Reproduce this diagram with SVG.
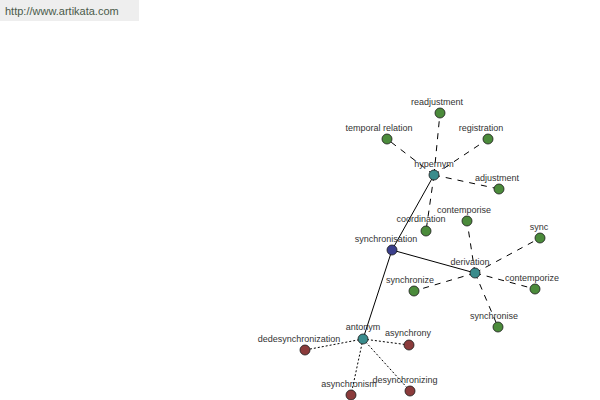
<svg xmlns="http://www.w3.org/2000/svg" width="600" height="400" viewBox="0 0 600 400">
<style>
.n{stroke:#1a1a1a;stroke-width:0.8}
.g{fill:#4b8b3b}
.t{fill:#3a8c8c}
.b{fill:#3b3f8c}
.r{fill:#8b3b3b}
text{font-family:"Liberation Sans",Arial,sans-serif;font-size:9px;fill:#333;text-anchor:middle}
.s{stroke:#000;stroke-width:1;fill:none}
.d{stroke:#000;stroke-width:1;stroke-dasharray:6,6;fill:none}
.o{stroke:#000;stroke-width:1;stroke-dasharray:2,2;fill:none}
</style>
<rect x="0" y="0" width="139" height="21" fill="#eeeeee"/>
<text x="5" y="15" style="text-anchor:start;font-size:11px;fill:#4a5a4a">http://www.artikata.com</text>
<g id="connectors">
<line class="s" x1="434" y1="175" x2="392" y2="250"/>
<line class="s" x1="392" y1="250" x2="475" y2="273"/>
<line class="s" x1="392" y1="250" x2="363" y2="339"/>
<line class="d" x1="434" y1="175" x2="440" y2="113"/>
<line class="d" x1="434" y1="175" x2="387" y2="139"/>
<line class="d" x1="434" y1="175" x2="488" y2="139"/>
<line class="d" x1="434" y1="175" x2="499" y2="189"/>
<line class="d" x1="434" y1="175" x2="426" y2="231"/>
<line class="d" x1="475" y1="273" x2="467" y2="221"/>
<line class="d" x1="475" y1="273" x2="540" y2="238"/>
<line class="d" x1="475" y1="273" x2="535" y2="289"/>
<line class="d" x1="475" y1="273" x2="414" y2="291"/>
<line class="d" x1="475" y1="273" x2="498" y2="327"/>
<line class="o" x1="363" y1="339" x2="409" y2="345"/>
<line class="o" x1="363" y1="339" x2="305" y2="350"/>
<line class="o" x1="363" y1="339" x2="351" y2="395"/>
<line class="o" x1="363" y1="339" x2="410" y2="391"/>
</g>
<g id="readjustment"><circle class="n g" cx="440" cy="113" r="5"/><text x="437" y="105">readjustment</text></g>
<g id="temporal-relation"><circle class="n g" cx="387" cy="139" r="5"/><text x="379" y="131">temporal relation</text></g>
<g id="registration"><circle class="n g" cx="488" cy="139" r="5"/><text x="481" y="131">registration</text></g>
<g id="adjustment"><circle class="n g" cx="499" cy="189" r="5"/><text x="497" y="181">adjustment</text></g>
<g id="coordination"><circle class="n g" cx="426" cy="231" r="5"/><text x="421" y="222">coordination</text></g>
<g id="contemporise"><circle class="n g" cx="467" cy="221" r="5"/><text x="464" y="213">contemporise</text></g>
<g id="sync"><circle class="n g" cx="540" cy="238" r="5"/><text x="539" y="230">sync</text></g>
<g id="contemporize"><circle class="n g" cx="535" cy="289" r="5"/><text x="532" y="281">contemporize</text></g>
<g id="synchronize"><circle class="n g" cx="414" cy="291" r="5"/><text x="410" y="283">synchronize</text></g>
<g id="synchronise"><circle class="n g" cx="498" cy="327" r="5"/><text x="494" y="319">synchronise</text></g>
<g id="asynchrony"><circle class="n r" cx="409" cy="345" r="5"/><text x="408" y="336">asynchrony</text></g>
<g id="dedesynchronization"><circle class="n r" cx="305" cy="350" r="5"/><text x="299" y="342">dedesynchronization</text></g>
<g id="asynchronism"><circle class="n r" cx="351" cy="395" r="5"/><text x="349" y="387">asynchronism</text></g>
<g id="desynchronizing"><circle class="n r" cx="410" cy="391" r="5"/><text x="405" y="383">desynchronizing</text></g>
<g id="hypernym"><circle class="n t" cx="434" cy="175" r="5"/><text x="434" y="167">hypernym</text></g>
<g id="synchronisation"><circle class="n b" cx="392" cy="250" r="5"/><text x="386" y="242">synchronisation</text></g>
<g id="derivation"><circle class="n t" cx="475" cy="273" r="5"/><text x="470" y="265">derivation</text></g>
<g id="antonym"><circle class="n t" cx="363" cy="339" r="5"/><text x="363" y="330">antonym</text></g>
</svg>
